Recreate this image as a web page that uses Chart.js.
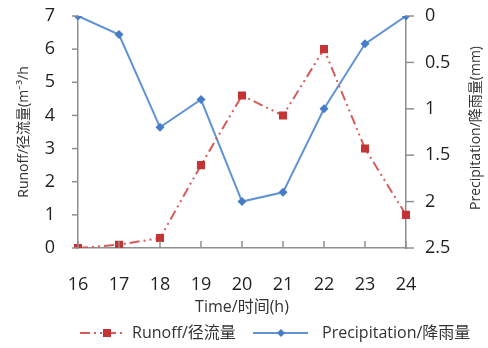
<!DOCTYPE html>
<html>
<head>
<meta charset="utf-8">
<script src="https://cdn.jsdelivr.net/npm/chart.js@4/dist/chart.umd.min.js"></script>
<style>
  html, body { margin: 0; padding: 0; background: #ffffff; }
  #wrap { width: 488px; height: 348px; }
</style>
</head>
<body>
<div id="wrap"><canvas id="chart" width="488" height="348"></canvas></div>
<script>
// Hourly runoff and precipitation, 16 h – 24 h
const hours = ['16', '17', '18', '19', '20', '21', '22', '23', '24'];
const runoff = [0, 0.1, 0.3, 2.5, 4.6, 4.0, 6.0, 3.0, 1.0];          // m⁻³/h
const precipitation = [0, 0.2, 1.2, 0.9, 2.0, 1.9, 1.0, 0.3, 0];      // mm
const runoffTicks = [0, 1, 2, 3, 4, 5, 6, 7];
const precipTicks = [0, 0.5, 1, 1.5, 2, 2.5];

const FONT = "'Open Sans', 'Noto Sans CJK SC', sans-serif";
const RED_LINE = 'rgb(214, 92, 92)';
const RED_MARK = 'rgb(196, 52, 52)';
const BLUE_LINE = 'rgb(96, 146, 214)';
const BLUE_MARK = 'rgb(70, 124, 200)';
const AXIS = '#8f8f8f';
const TEXT = '#333333';
const TICK_TEXT = '#1f1f1f';
const RUNOFF_DASH = [10, 4, 2, 4, 2, 4];

const labels = {
  runoff: 'Runoff/径流量',
  precip: 'Precipitation/降雨量',
  leftTitle: 'Runoff/径流量(m⁻³/h',
  rightTitle: 'Precipitation/降雨量(mm)',
  xTitle: 'Time/时间(h)'
};

// Axis tick marks: outward on both value axes, inward on the time axis
const tickMarks = {
  id: 'tickMarks',
  afterDatasetsDraw(chart) {
    const { x, y, y1 } = chart.scales;
    const ctx = chart.ctx;
    ctx.save();
    ctx.strokeStyle = AXIS;
    ctx.lineWidth = 1.5;
    const seg = (x0, y0, x1, yy1) => {
      ctx.beginPath();
      ctx.moveTo(x0, y0);
      ctx.lineTo(x1, yy1);
      ctx.stroke();
    };
    x.ticks.forEach((t, i) => {
      const px = x.getPixelForTick(i);
      seg(px, x.top, px, x.top - 7);
    });
    y.ticks.forEach((t, i) => {
      const py = y.getPixelForTick(i);
      seg(y.right - 6, py, y.right, py);
    });
    y1.ticks.forEach((t, i) => {
      const py = y1.getPixelForTick(i);
      seg(y1.left, py, y1.left + 8, py);
    });
    ctx.restore();
  }
};

// Right axis title reading bottom-to-top, and the legend row
const extras = {
  id: 'extras',
  afterDraw(chart) {
    const ctx = chart.ctx;
    const area = chart.chartArea;
    ctx.save();
    ctx.font = '14px ' + FONT;
    ctx.fillStyle = TEXT;
    ctx.textAlign = 'center';
    ctx.textBaseline = 'middle';
    ctx.translate(476, (area.top + area.bottom) / 2 - 4);
    ctx.rotate(-Math.PI / 2);
    ctx.fillText(labels.rightTitle, 0, 0);
    ctx.restore();

    // legend
    const y = 333;
    ctx.save();
    ctx.font = '16px ' + FONT;
    ctx.textAlign = 'left';
    ctx.textBaseline = 'middle';

    // runoff entry
    ctx.strokeStyle = RED_LINE;
    ctx.lineWidth = 2;
    ctx.setLineDash(RUNOFF_DASH);
    ctx.beginPath();
    ctx.moveTo(80, y);
    ctx.lineTo(125, y);
    ctx.stroke();
    ctx.setLineDash([]);
    ctx.fillStyle = RED_MARK;
    ctx.fillRect(103, y - 4, 8, 8);
    ctx.fillStyle = TEXT;
    ctx.fillText(labels.runoff, 132, y);

    // precipitation entry
    ctx.strokeStyle = BLUE_LINE;
    ctx.beginPath();
    ctx.moveTo(253, y);
    ctx.lineTo(308, y);
    ctx.stroke();
    ctx.fillStyle = BLUE_MARK;
    ctx.beginPath();
    ctx.moveTo(281, y - 4);
    ctx.lineTo(285, y);
    ctx.lineTo(281, y + 4);
    ctx.lineTo(277, y);
    ctx.closePath();
    ctx.fill();
    ctx.fillStyle = TEXT;
    ctx.fillText(labels.precip, 322, y);
    ctx.restore();
  }
};

new Chart(document.getElementById('chart'), {
  type: 'line',
  data: {
    labels: hours,
    datasets: [
      {
        label: labels.runoff,
        data: runoff,
        yAxisID: 'y',
        borderColor: RED_LINE,
        borderWidth: 2,
        borderDash: RUNOFF_DASH,
        backgroundColor: RED_MARK,
        pointStyle: 'rect',
        pointRadius: 5.7,
        pointBorderWidth: 0,
        pointBackgroundColor: RED_MARK,
        tension: 0
      },
      {
        label: labels.precip,
        data: precipitation,
        yAxisID: 'y1',
        borderColor: BLUE_LINE,
        borderWidth: 2,
        backgroundColor: BLUE_MARK,
        pointStyle: 'rectRot',
        pointRadius: 4.5,
        pointBorderWidth: 0,
        pointBackgroundColor: BLUE_MARK,
        tension: 0
      }
    ]
  },
  options: {
    responsive: false,
    animation: false,
    layout: { padding: { top: 16, left: 0, right: 0, bottom: 31 } },
    plugins: {
      legend: { display: false },
      tooltip: { enabled: false }
    },
    scales: {
      x: {
        type: 'category',
        offset: false,
        grid: { display: true, drawOnChartArea: false, drawTicks: false, color: AXIS },
        border: { display: true, color: AXIS, width: 1.5 },
        ticks: { color: TICK_TEXT, font: { family: FONT, size: 18 }, padding: 26, maxRotation: 0 },
        title: { display: true, text: labels.xTitle, color: TEXT, font: { family: FONT, size: 16 }, padding: { top: 0, bottom: 0 } },
        afterFit(scale) { scale.height = 69; }
      },
      y: {
        position: 'left',
        min: 0,
        max: 7,
        afterBuildTicks(scale) { scale.ticks = runoffTicks.map(v => ({ value: v })); },
        grid: { display: true, drawOnChartArea: false, drawTicks: true, tickLength: 23, tickColor: 'rgba(0,0,0,0)', color: AXIS },
        border: { display: true, color: AXIS, width: 1.5 },
        ticks: { color: TICK_TEXT, font: { family: FONT, size: 18 }, padding: 0 },
        title: { display: true, text: labels.leftTitle, color: TEXT, font: { family: FONT, size: 14 }, padding: { top: 16, bottom: 0 } },
        afterFit(scale) { scale.width = 78; }
      },
      y1: {
        position: 'right',
        min: 0,
        max: 2.5,
        reverse: true,
        afterBuildTicks(scale) { scale.ticks = precipTicks.map(v => ({ value: v })); },
        grid: { display: true, drawOnChartArea: false, drawTicks: true, tickLength: 19, tickColor: 'rgba(0,0,0,0)', color: AXIS },
        border: { display: true, color: AXIS, width: 1.5 },
        ticks: { color: TICK_TEXT, font: { family: FONT, size: 18 }, padding: 0, callback: v => String(v) },
        afterFit(scale) { scale.width = 82; }
      }
    }
  },
  plugins: [tickMarks, extras]
});
</script>
</body>
</html>
